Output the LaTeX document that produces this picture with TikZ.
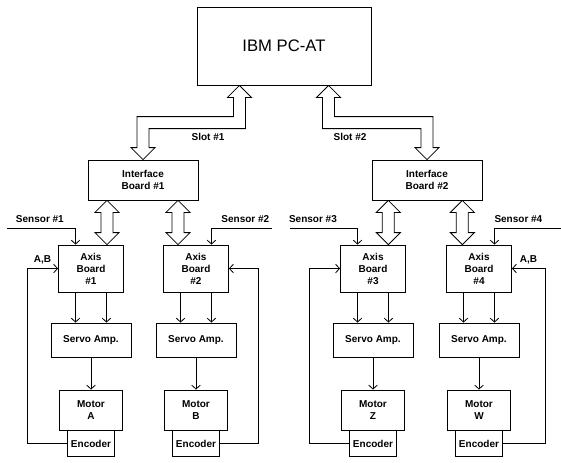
\documentclass[tikz,border=0pt]{standalone}
\usepackage{fontspec}
\setmainfont{Liberation Sans}
\usetikzlibrary{calc,positioning,arrows.meta}
\tikzstyle{every path}=[line width=0.6pt]
\tikzstyle{box}=[draw, inner sep=0pt, align=center, font=\fontsize{7.5}{9}\selectfont\bfseries]
\tikzstyle{lbl}=[inner sep=1pt, font=\fontsize{7.5}{9}\selectfont\bfseries]
\tikzstyle{sig}=[-{Straight Barb[length=3pt,width=6.5pt]}]
% hollow bus arrows: straight (top tip, bottom tip)
\newcommand{\busv}[2]{\draw ($(#1)+(6,12)$) -- ($(#2)+(6,-12)$) -- ++(6,0) -- (#2) -- ++(-12,-12) -- ++(6,0)
    -- ($(#1)+(-6,12)$) -- ++(-6,0) -- (#1) -- ++(12,12) -- cycle;}
% bent (top tip, bottom tip, corner above bottom tip, 6 = turns left / -6 = turns right)
\newcommand{\busbend}[4]{\draw ($(#1)+(6,12)$) |- ($(#3)+(6,#4)$) -- ($(#2)+(6,-12)$) -- ++(6,0) -- (#2) -- ++(-12,-12) -- ++(6,0)
    -- ($(#3)+(-6,{-1*(#4)})$) -| ($(#1)+(-6,12)$) -- ++(-6,0) -- (#1) -- ++(12,12) -- cycle;}

\begin{document}
\begin{tikzpicture}[x=0.75pt, y=-0.75pt]
            \useasboundingbox (0,0) rectangle (561,462);

            \node[box, minimum width=130.5pt, minimum height=58.5pt,
                font=\fontsize{12.5}{15}\selectfont] (pc) at (284,46) {IBM PC-AT};
            \node[box, minimum width=82.5pt, minimum height=30pt] (if1) at (143,180) {Interface\\Board \#1};
            \node[box, minimum width=82.5pt, minimum height=30pt] (if2) at (427,180) {Interface\\Board \#2};

            \node[box, minimum width=48.75pt, minimum height=35.25pt] (ax1) at (91,268.5) {Axis\\Board\\\#1};
            \node[box, minimum width=48.75pt, minimum height=35.25pt] (ax2) at (196,268.5) {Axis\\Board\\\#2};
            \node[box, minimum width=48.75pt, minimum height=35.25pt] (ax3) at (373,268.5) {Axis\\Board\\\#3};
            \node[box, minimum width=48.75pt, minimum height=35.25pt] (ax4) at (479,268.5) {Axis\\Board\\\#4};

            \node[box, minimum width=60pt, minimum height=25.5pt] (sv1) at (91,340) {Servo Amp.};
            \node[box, minimum width=60pt, minimum height=25.5pt] (sv2) at (196,340) {Servo Amp.};
            \node[box, minimum width=60pt, minimum height=25.5pt] (sv3) at (373,340) {Servo Amp.};
            \node[box, minimum width=60pt, minimum height=25.5pt] (sv4) at (479,340) {Servo Amp.};

            \node[box, minimum width=47.25pt, minimum height=30pt] (mo1) at (91,410) {Motor\\A};
            \node[box, minimum width=47.25pt, minimum height=30pt] (mo2) at (196,410) {Motor\\B};
            \node[box, minimum width=47.25pt, minimum height=30pt] (mo3) at (373,410) {Motor\\Z};
            \node[box, minimum width=47.25pt, minimum height=30pt] (mo4) at (479,410) {Motor\\W};

            \node[box, minimum width=35.25pt, minimum height=19.5pt, below=0pt of mo1] (en1) {Encoder};
            \node[box, minimum width=35.25pt, minimum height=19.5pt, below=0pt of mo2] (en2) {Encoder};
            \node[box, minimum width=35.25pt, minimum height=19.5pt, below=0pt of mo3] (en3) {Encoder};
            \node[box, minimum width=35.25pt, minimum height=19.5pt, below=0pt of mo4] (en4) {Encoder};

            % slots
            \coordinate (t1) at ([xshift=-33.4pt]pc.south);
            \coordinate (t2) at ([xshift=33.4pt]pc.south);
            \coordinate (m1) at ($(if1.north)+(0,-37)$);
            \coordinate (m2) at ($(if2.north)+(0,-37)$);
            \busbend{t1}{if1.north}{m1}{6}
            \busbend{t2}{if2.north}{m2}{-6}
            \node[lbl] (sl1) at (208,137) {Slot \#1};
            \node[lbl] (sl2) at (350,137) {Slot \#2};

            % interface to axis boards
            \coordinate (b1) at ([xshift=12pt]ax1.north);
            \coordinate (b2) at ([xshift=-13.5pt]ax2.north);
            \coordinate (b3) at ([xshift=11.5pt]ax3.north);
            \coordinate (b4) at ([xshift=-12.5pt]ax4.north);
            \coordinate (bt1) at (b1 |- if1.south);
            \coordinate (bt2) at (b2 |- if1.south);
            \coordinate (bt3) at (b3 |- if2.south);
            \coordinate (bt4) at (b4 |- if2.south);
            \busv{bt1}{b1}
            \busv{bt2}{b2}
            \busv{bt3}{b3}
            \busv{bt4}{b4}

            % sensors
            \coordinate (s1) at (7,228);
            \coordinate (s2) at (272,228);
            \coordinate (s3) at (290,228);
            \coordinate (s4) at (561,228);
            \draw[sig] (s1) -| ([xshift=-11.6pt]ax1.north)
                node[lbl, pos=0.24, above=3pt] (ls1) {Sensor \#1};
            \draw[sig] (s2) -| ([xshift=11.6pt]ax2.north)
                node[lbl, pos=0.22, above=3pt] (ls2) {Sensor \#2};
            \draw[sig] (s3) -| ([xshift=-11.6pt]ax3.north)
                node[lbl, pos=0.17, above=3pt] (ls3) {Sensor \#3};
            \draw[sig] (s4) -| ([xshift=11.6pt]ax4.north)
                node[lbl, pos=0.32, above=3pt] (ls4) {Sensor \#4};

            % axis board to servo amp. to motor
            \draw[sig] ([xshift=-11.6pt]ax1.south) -- ([xshift=-11.6pt]sv1.north);
            \draw[sig] ([xshift=11.6pt]ax1.south) -- ([xshift=11.6pt]sv1.north);
            \draw[sig] ([xshift=-11.6pt]ax2.south) -- ([xshift=-11.6pt]sv2.north);
            \draw[sig] ([xshift=11.6pt]ax2.south) -- ([xshift=11.6pt]sv2.north);
            \draw[sig] ([xshift=-11.6pt]ax3.south) -- ([xshift=-11.6pt]sv3.north);
            \draw[sig] ([xshift=11.6pt]ax3.south) -- ([xshift=11.6pt]sv3.north);
            \draw[sig] ([xshift=-11.6pt]ax4.south) -- ([xshift=-11.6pt]sv4.north);
            \draw[sig] ([xshift=11.6pt]ax4.south) -- ([xshift=11.6pt]sv4.north);
            \draw[sig] (sv1) -- (mo1);
            \draw[sig] (sv2) -- (mo2);
            \draw[sig] (sv3) -- (mo3);
            \draw[sig] (sv4) -- (mo4);

            % encoder feedback
            \draw[sig] (en1.west) -- ++(-40,0) |- (ax1.west)
                node[lbl, pos=0.75, above=2pt] (ab1) {A,B};
            \draw[sig] (en2.east) -- ++(38,0) |- (ax2.east);
            \draw[sig] (en3.west) -- ++(-40,0) |- (ax3.west);
            \draw[sig] (en4.east) -- ++(42,0) |- (ax4.east)
                node[lbl, pos=0.75, above=2pt] (ab4) {A,B};
\end{tikzpicture}
\end{document}
